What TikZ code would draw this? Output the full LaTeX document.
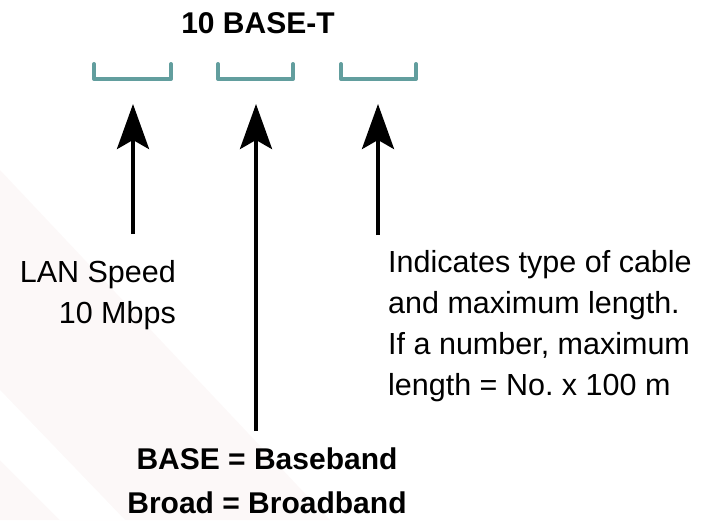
\documentclass[tikz,border=0pt]{standalone}
\usepackage{fontspec}
\setmainfont{Liberation Sans}
\usetikzlibrary{arrows.meta}
\frenchspacing
\definecolor{bracketcol}{RGB}{98,158,158}
\definecolor{bgpink}{RGB}{252,248,248}
\tikzset{
  bracketline/.style={draw=bracketcol, line width=4pt, line cap=round, line join=round},
  uparrow/.style={draw=black, line width=4pt, -{Stealth[length=45pt, width=32pt, inset=9pt]}},
  plaintext/.style={inner sep=0pt, font=\fontsize{30.5}{41}\selectfont},
  boldtext/.style={inner sep=0pt, font=\fontsize{30}{44}\selectfont\bfseries},
}
\begin{document}
\begin{tikzpicture}[x=1pt,y=-1pt]
\useasboundingbox (0,0) rectangle (702,520);
% faint background band
\fill[bgpink] (0,170) -- (330,520) -- (0,520) -- cycle;
\fill[white] (0,390) -- (125,520) -- (60,520) -- (0,460) -- cycle;

% title
\node[boldtext, anchor=base] (title) at (258,33) {10 BASE-T};

% brackets
\draw[bracketline] (94,64) |- (171,79) -- (171,64);
\draw[bracketline] (218,64) |- (293,79) -- (293,64);
\draw[bracketline] (341,64) |- (416,79) -- (416,64);

% arrow coordinates
\coordinate (tipA) at (133,104);
\coordinate (tailA) at (133,234);
\coordinate (tipB) at (256,104);
\coordinate (tailB) at (256,431);
\coordinate (tipC) at (378,104);
\coordinate (tailC) at (378,235);

\draw[uparrow] (tailA) -- (tipA);
\draw[uparrow] (tailB) -- (tipB);
\draw[uparrow] (tailC) -- (tipC);

% labels
\node[plaintext, anchor=north east, align=right] (speed) at (176,260) {LAN Speed\\10 Mbps};
\node[plaintext, anchor=north west, align=left] (cable) at (388,250)
  {Indicates type of cable\\and maximum length.\\If a number, maximum\\length = No. x 100 m};
\node[boldtext, anchor=north, align=center] (base) at (267,448) {BASE = Baseband\\Broad = Broadband};
\end{tikzpicture}
\end{document}
